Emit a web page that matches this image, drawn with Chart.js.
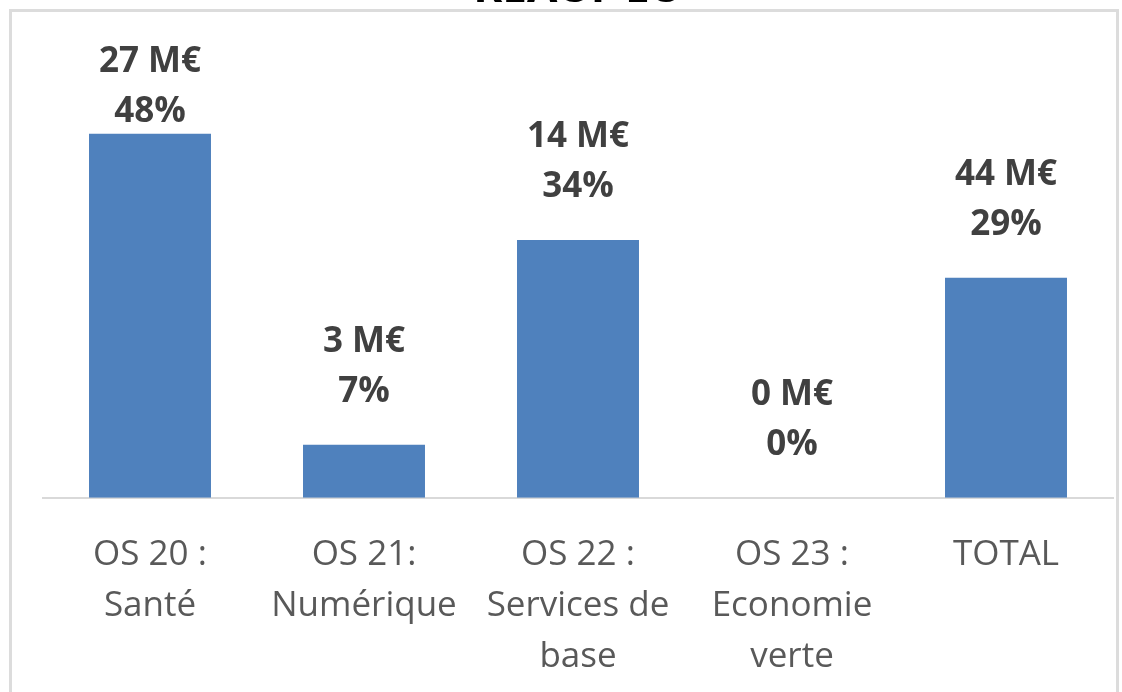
<!DOCTYPE html>
<html>
<head>
<meta charset="utf-8">
<script src="https://cdn.jsdelivr.net/npm/chart.js@4.4.0/dist/chart.umd.min.js"></script>
<style>
  html, body { margin: 0; padding: 0; background: #ffffff; overflow: hidden; width: 1122px; height: 692px; }
  #frame { position: absolute; left: 9px; top: 9px; width: 1110px; height: 700px; border: 3px solid #dcdcdc; box-sizing: border-box; }
  #wrap { position: absolute; left: 0; top: -40px; width: 1122px; height: 765px; }
</style>
</head>
<body>
<div id="frame"></div>
<div id="wrap"><canvas id="c" width="1122" height="765"></canvas></div>
<script>
const titleText = "REACT-EU";
const categories = [
  ["OS 20 :", "Santé"],
  ["OS 21:", "Numérique"],
  ["OS 22 :", "Services de", "base"],
  ["OS 23 :", "Economie", "verte"],
  ["TOTAL"]
];
const percentValues = [48, 7, 34, 0, 29];
const amountLabels = ["27 M€", "3 M€", "14 M€", "0 M€", "44 M€"];
const percentLabels = ["48%", "7%", "34%", "0%", "29%"];

const labelPlugin = {
  id: 'barLabels',
  afterDatasetsDraw(chart) {
    const ctx = chart.ctx;
    const meta = chart.getDatasetMeta(0);
    ctx.save();
    ctx.font = "bold 35px 'Open Sans'";
    ctx.fillStyle = "#404040";
    ctx.textAlign = "center";
    ctx.textBaseline = "middle";
    const gap = 53, lineGap = 50, minTop = 102;
    meta.data.forEach((bar, i) => {
      let y2 = bar.y - gap;
      let y1 = y2 - lineGap;
      if (y1 < minTop) { y1 = minTop; y2 = y1 + lineGap; }
      ctx.fillText(amountLabels[i], bar.x, y1);
      ctx.fillText(percentLabels[i], bar.x, y2);
    });
    ctx.restore();
  }
};

new Chart(document.getElementById('c'), {
  type: 'bar',
  data: {
    labels: categories,
    datasets: [{
      data: percentValues,
      backgroundColor: '#4F81BD',
      borderWidth: 0,
      categoryPercentage: 1.0,
      barPercentage: 0.57
    }]
  },
  options: {
    responsive: false,
    animation: false,
    devicePixelRatio: 1,
    layout: { padding: { left: 43, right: 9, top: 0, bottom: 10 } },
    plugins: {
      legend: { display: false },
      tooltip: { enabled: false },
      title: {
        display: true,
        text: titleText,
        color: '#000000',
        font: { family: "'Open Sans'", size: 44, weight: 'bold', lineHeight: 1.2 },
        padding: { top: 3, bottom: 27 }
      }
    },
    scales: {
      x: {
        grid: { display: false, drawTicks: false },
        border: { display: true, color: '#d9d9d9', width: 2 },
        ticks: {
          color: '#595959',
          font: { family: "'Open Sans'", size: 35, lineHeight: 1.46 },
          padding: 32,
          maxRotation: 0,
          minRotation: 0,
          autoSkip: false
        }
      },
      y: {
        display: false,
        min: 0,
        max: 60
      }
    }
  },
  plugins: [labelPlugin]
});
</script>
</body>
</html>
